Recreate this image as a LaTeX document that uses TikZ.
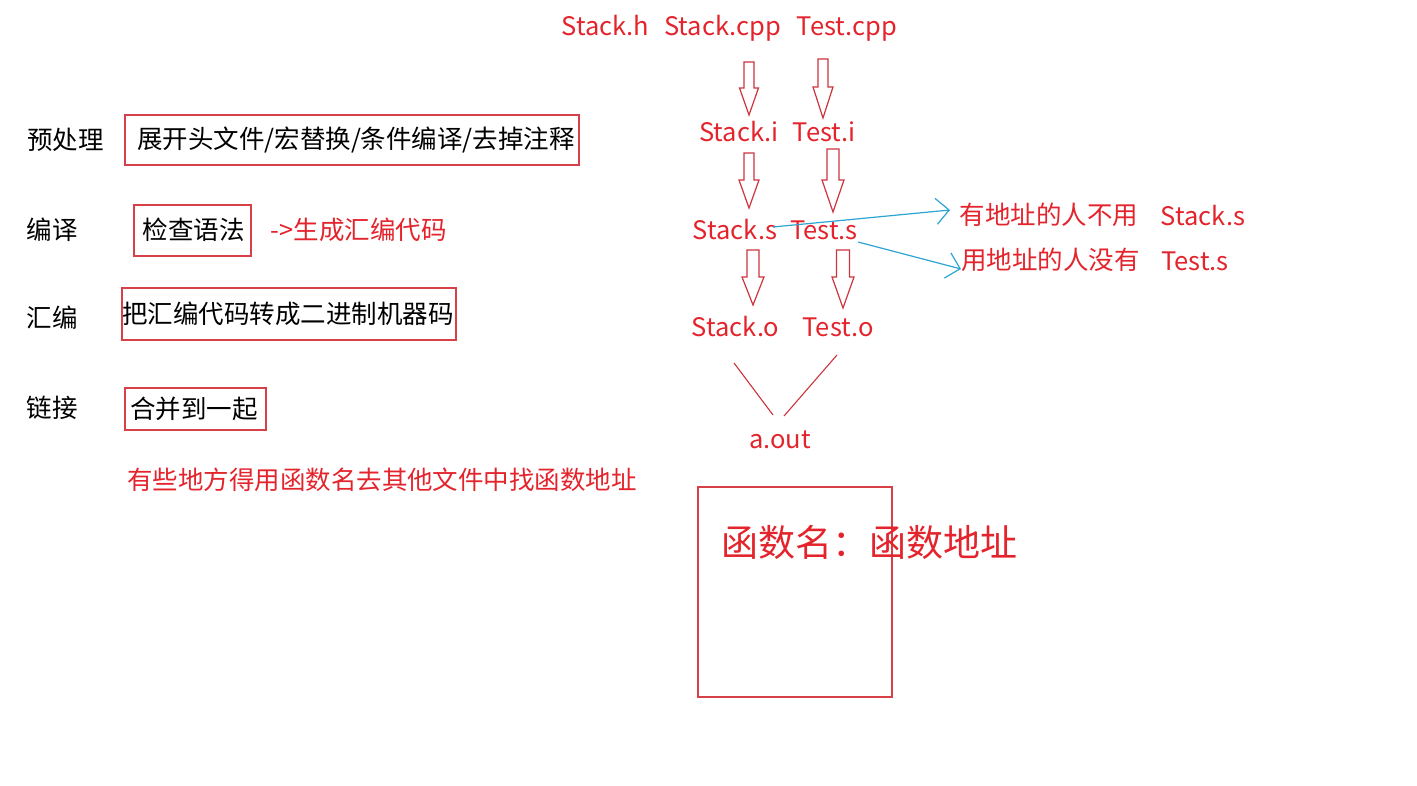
\documentclass[tikz,border=0pt]{standalone}
\usepackage{fontspec}
\setmainfont{Noto Sans CJK SC}
\usetikzlibrary{arrows.meta}
\definecolor{txtred}{RGB}{228,36,44}
\definecolor{boxred}{RGB}{214,64,70}
\definecolor{arrred}{RGB}{205,52,62}
\definecolor{lineblue}{RGB}{45,165,210}
\newcommand\holarrow[7]{%
  \draw[hol] ({#2-#6},#3) -- ({#2+#6},#3) -- ({#2+#6},#4) -- ({#2+#7},#4)
    -- (#2,#5) coordinate (#1) -- ({#2-#7},#4) -- ({#2-#6},#4) -- cycle;}
\begin{document}
\begin{tikzpicture}[x=1pt,y=-1pt,
  cjk/.style={font=\fontsize{25.5}{30}\selectfont, inner sep=0pt},
  redtxt/.style={cjk, text=txtred},
  blacktxt/.style={cjk, text=black},
  lat/.style={redtxt, anchor=base},
  redbox/.style={draw=boxred, line width=1.4pt, inner sep=0pt},
  hol/.style={draw=arrred, line width=1.2pt, line join=miter},
  bluearr/.style={draw=lineblue, line width=1.2pt, -{Straight Barb[length=13pt,width=26pt]}},
  joinline/.style={draw=arrred, line width=1.1pt},
]
\useasboundingbox (0,0) rectangle (1417,786);
\fill[white] (0,0) rectangle (1417,786);

% left column
\node[blacktxt] (pre) at (65.5,140) {预处理};
\node[blacktxt] (cmp) at (52.5,230) {编译};
\node[blacktxt] (asm) at (52.5,318) {汇编};
\node[blacktxt] (lnk) at (52.5,408) {链接};

\node[redbox, minimum width=454pt, minimum height=50pt] (b1) at (352,140) {};
\node[blacktxt] (t1) at (356,140) {展开头文件/宏替换/条件编译/去掉注释};
\node[redbox, minimum width=117pt, minimum height=51pt] (b2) at (192.5,230.5) {};
\node[blacktxt] (t2) at (193.5,230) {检查语法};
\node[redtxt] (gen) at (358.5,230) {->生成汇编代码};
\node[redbox, minimum width=334pt, minimum height=52pt] (b3) at (289,314) {};
\node[blacktxt] (t3) at (288,314) {把汇编代码转成二进制机器码};
\node[redbox, minimum width=141pt, minimum height=42pt] (b4) at (195.5,409) {};
\node[blacktxt] (t4) at (194,409) {合并到一起};
\node[redtxt] (note) at (382,480) {有些地方得用函数名去其他文件中找函数地址};

% file flow
\node[lat] (sh) at (605.5,36) {Stack.h};
\node[lat] (scpp) at (722.5,36) {Stack.cpp};
\node[lat] (tcpp) at (847,36) {Test.cpp};
\holarrow{a1}{749}{62}{88}{115}{5}{9.5}
\holarrow{a2}{823}{59}{87}{118}{5}{10}
\node[lat] (si) at (739,142) {Stack.i};
\node[lat] (ti) at (824,142) {Test.i};
\holarrow{a3}{749}{153}{180}{208}{5}{10}
\holarrow{a4}{833}{149}{180}{212}{6}{11}
\node[lat] (ss) at (735,240) {Stack.s};
\node[lat] (ts) at (824,240) {Test.s};
\holarrow{a5}{753}{250}{277}{305}{6}{11}
\holarrow{a6}{843}{250}{277}{308}{6.5}{11}
\node[lat] (so) at (735.5,337) {Stack.o};
\node[lat] (to) at (838,337) {Test.o};
\node[lat] (aout) at (780,448) {a.out};
\coordinate (l1a) at (734,363);
\coordinate (l1b) at (773,415);
\coordinate (l2a) at (837,355);
\coordinate (l2b) at (784,416);
\draw[joinline] (l1a) -- (l1b);
\draw[joinline] (l2a) -- (l2b);

% blue notes
\coordinate (b1s) at (773,227);
\coordinate (b1e) at (950,210);
\coordinate (b2s) at (858,242);
\coordinate (b2e) at (961,269);
\draw[bluearr] (b1s) -- (b1e);
\draw[bluearr] (b2s) -- (b2e);
\node[redtxt] (n1) at (1049,215) {有地址的人不用};
\node[lat] (n1s) at (1203,226) {Stack.s};
\node[redtxt] (n2) at (1050.5,260) {用地址的人没有};
\node[lat] (n2s) at (1195,271) {Test.s};

% symbol table
\node[draw=boxred, line width=1.6pt, inner sep=0pt, minimum width=194pt, minimum height=210pt] (tbl) at (795,592) {};
\node[text=txtred, inner sep=0pt, font=\fontsize{37}{44}\selectfont] (tbltxt) at (869,542) {函数名：函数地址};
\end{tikzpicture}
\end{document}
